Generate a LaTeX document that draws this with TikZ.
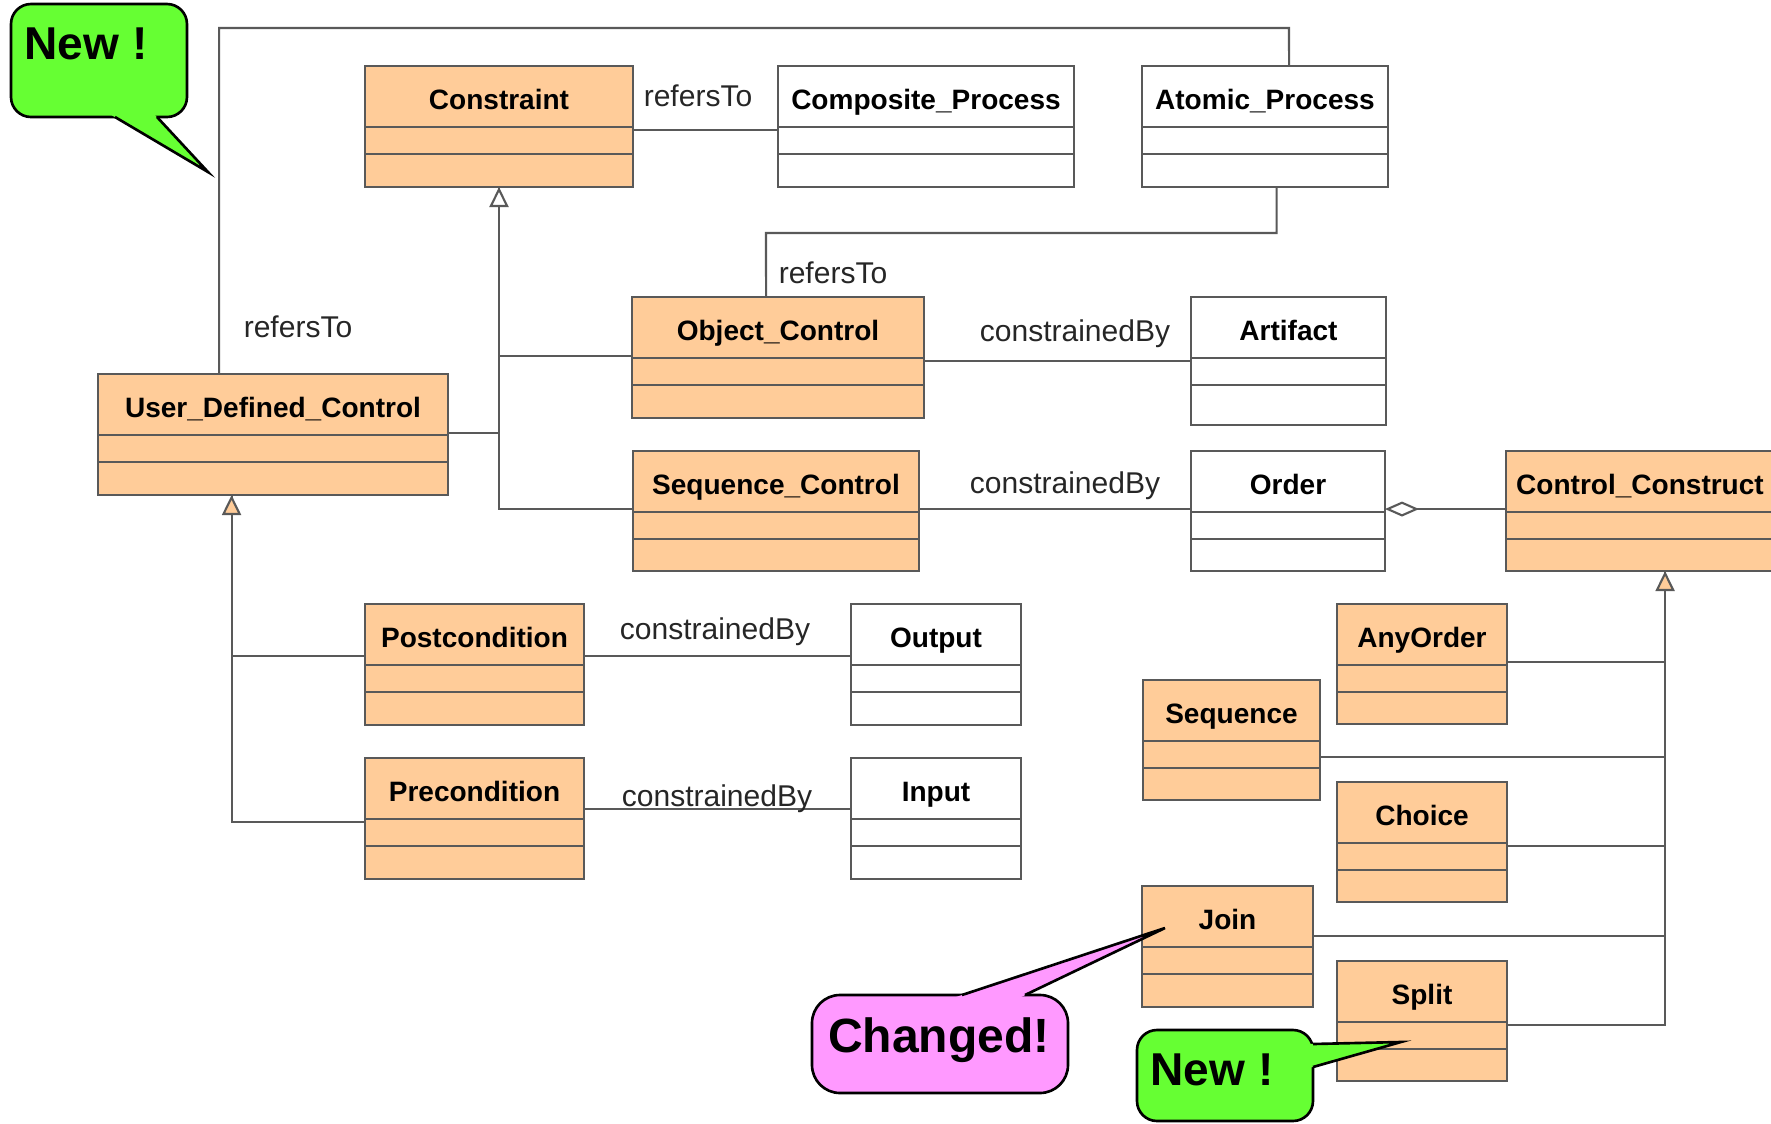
\documentclass[tikz,border=0pt]{standalone}
\usepackage{fontspec}
\setmainfont{Liberation Sans}
\usetikzlibrary{arrows.meta}  % arrow tips

\definecolor{classfill}{HTML}{FFCC99}
\definecolor{linegray}{HTML}{595959}
\definecolor{newgreen}{HTML}{66FF33}
\definecolor{changedpink}{HTML}{FF99FF}

\begin{document}
\begin{tikzpicture}[x=0.01cm, y=-0.01cm,
    classbox/.style={draw=linegray, line width=0.6pt, anchor=north west, inner sep=0pt, outer sep=0pt},
    compline/.style={draw=linegray, line width=0.6pt},
    classname/.style={font=\fontsize{7.97}{9}\selectfont\bfseries, inner sep=0pt, text height=0.72em, text depth=0pt},
    role/.style={font=\fontsize{8.54}{10}\selectfont, text=black!85, inner sep=0pt, text height=0.72em, text depth=0pt},
    conn/.style={draw=linegray, line width=0.6pt},
    inherit/.style={conn, -{Triangle[fill=white, length=0.2cm, width=0.19cm]}},
    inheritfill/.style={conn, -{Triangle[fill=classfill, length=0.2cm, width=0.19cm]}},
    aggregate/.style={conn, -{Diamond[fill=white, length=0.34cm, width=0.15cm]}},
    callout/.style={draw=black, line width=0.75pt},
    callouttext/.style={font=\fontsize{13.1}{15}\selectfont\bfseries, inner sep=0pt, text height=0.72em, text depth=0pt}
  ]
    \useasboundingbox (0,0) rectangle (1771,1123);

    % classes: name/left/top/width/height/fill/title
    \foreach \nm/\x/\y/\w/\h/\col/\txt in {
        Constraint/365/66/268/121/classfill/Constraint,
        Composite/778/66/296/121/white/Composite\_Process,
        Atomic/1142/66/246/121/white/Atomic\_Process,
        ObjCtrl/632/297/292/121/classfill/Object\_Control,
        Artifact/1191/297/195/128/white/Artifact,
        UDC/98/374/350/121/classfill/User\_Defined\_Control,
        SeqCtrl/633/451/286/120/classfill/Sequence\_Control,
        Order/1191/451/194/120/white/Order,
        CtrlCons/1506/451/268/120/classfill/Control\_Construct,
        Post/365/604/219/121/classfill/Postcondition,
        Output/851/604/170/121/white/Output,
        Pre/365/758/219/121/classfill/Precondition,
        Input/851/758/170/121/white/Input,
        AnyOrder/1337/604/170/120/classfill/AnyOrder,
        Sequence/1143/680/177/120/classfill/Sequence,
        Choice/1337/782/170/120/classfill/Choice,
        Join/1142/886/171/121/classfill/Join,
        Split/1337/961/170/120/classfill/Split}{
      \node[classbox, fill=\col, minimum width=\w*0.01cm, minimum height=\h*0.01cm] (\nm) at (\x,\y) {};
      \draw[compline] ([yshift=-0.61cm]\nm.north west) -- ([yshift=-0.61cm]\nm.north east);
      \draw[compline] ([yshift=-0.88cm]\nm.north west) -- ([yshift=-0.88cm]\nm.north east);
      \node[classname] (\nm-title) at ([yshift=-0.305cm]\nm.north) {\txt};
    }

    % associations
    \draw[conn] ([yshift=-0.64cm]Constraint.north east) -- ([yshift=-0.64cm]Composite.north west);
    \node[role] (refA) at (698,94) {refersTo};

    \coordinate (bendTop) at (1289,28);
    \draw[conn] ([xshift=1.21cm]UDC.north west) |- (bendTop) -- ([xshift=1.47cm]Atomic.north west);
    \node[role] (refB) at (298,325) {refersTo};

    \coordinate (bendMid) at (766,233);
    \draw[conn] ([xshift=1.345cm]Atomic.south west) |- (bendMid) -- ([xshift=1.34cm]ObjCtrl.north west);
    \node[role] (refC) at (833,271) {refersTo};

    \draw[conn] ([yshift=-0.64cm]ObjCtrl.north east) -- ([yshift=-0.64cm]Artifact.north west);
    \node[role] (conA) at (1075,329) {constrainedBy};
    \draw[conn] ([yshift=-0.58cm]SeqCtrl.north east) -- ([yshift=-0.58cm]Order.north west);
    \node[role] (conB) at (1065,481) {constrainedBy};
    \draw[conn] ([yshift=-0.52cm]Post.north east) -- ([yshift=-0.52cm]Output.north west);
    \node[role] (conC) at (715,627) {constrainedBy};
    \draw[conn] ([yshift=-0.51cm]Pre.north east) -- ([yshift=-0.51cm]Input.north west);
    \node[role] (conD) at (717,794) {constrainedBy};

    \draw[aggregate] ([yshift=-0.58cm]CtrlCons.north west) -- ([yshift=-0.58cm]Order.north east);

    % generalizations
    \draw[conn] ([yshift=-0.59cm]UDC.north east) -| (Constraint.south);
    \draw[conn] ([yshift=-0.59cm]ObjCtrl.north west) -| (Constraint.south);
    \draw[inherit] ([yshift=-0.58cm]SeqCtrl.north west) -| (Constraint.south);

    \coordinate (udcFoot) at ([xshift=1.335cm]UDC.south west);
    \draw[conn] ([yshift=-0.52cm]Post.north west) -| (udcFoot);
    \draw[inheritfill] ([yshift=-0.64cm]Pre.north west) -| (udcFoot);

    \coordinate (ccFoot) at ([xshift=1.59cm]CtrlCons.south west);
    \foreach \nm/\dy in {AnyOrder/0.58, Sequence/0.77, Choice/0.64, Join/0.50}
      \draw[conn] ([yshift=-\dy cm]\nm.north east) -| (ccFoot);
    \draw[inheritfill] ([yshift=-0.64cm]Split.north east) -| (ccFoot);

    % callouts
    \draw[callout, fill=newgreen, rounded corners=0.2cm] (11,4) rectangle (187,117);
    \fill[newgreen] (108,113) -- (208,172) -- (153,113) -- cycle;
    \draw[callout] (115,117) -- (208,172) -- (157,117);
    \node[callouttext] (newA) at (86,47) {New !};

    \draw[callout, fill=changedpink, rounded corners=0.28cm] (812,995) rectangle (1068,1093);
    \fill[changedpink] (950,999) -- (1165,928) -- (1017,999) -- cycle;
    \draw[callout] (962,995) -- (1165,928) -- (1025,995);
    \node[callouttext, font=\fontsize{13.66}{15}\selectfont\bfseries] (changed) at (939,1040) {Changed!};

    \draw[callout, fill=newgreen, rounded corners=0.2cm] (1137,1030) rectangle (1313,1121);
    \fill[newgreen] (1309,1044) -- (1401,1042) -- (1309,1068) -- cycle;
    \draw[callout] (1313,1044) -- (1401,1042) -- (1313,1067);
    \node[callouttext] (newB) at (1212,1073) {New !};
\end{tikzpicture}
\end{document}
